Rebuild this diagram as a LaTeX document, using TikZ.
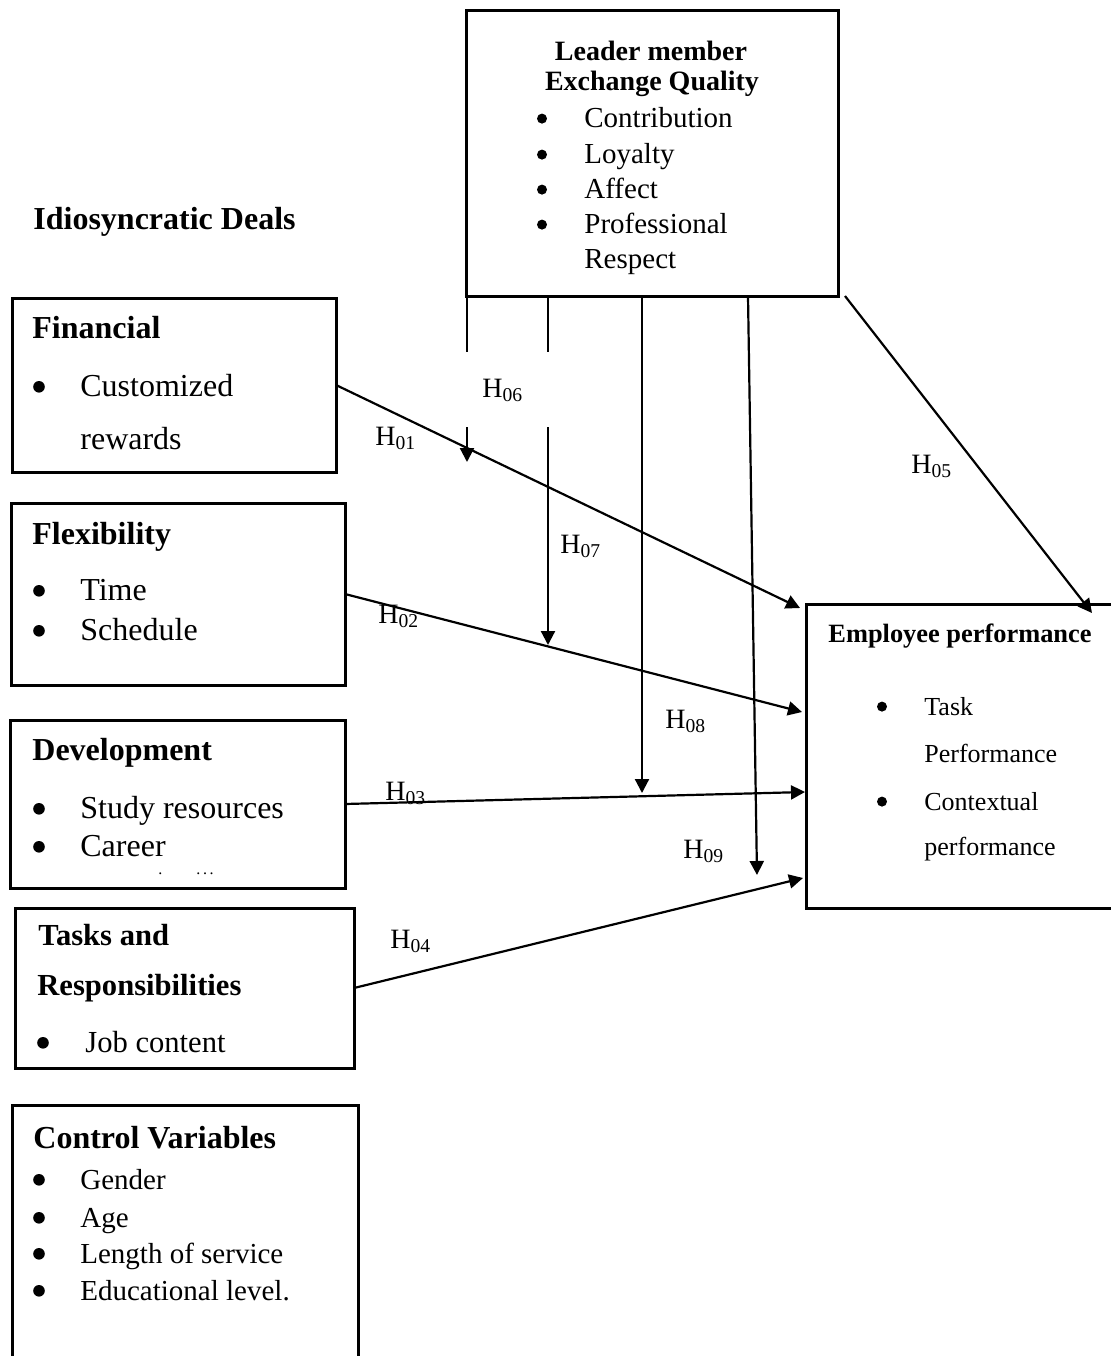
\documentclass[tikz,border=0pt]{standalone}
\usepackage{fontspec}
\setmainfont{Liberation Serif}
\usepackage{tikz}
\usetikzlibrary{arrows.meta, positioning}

\newcommand{\sz}[1]{\fontsize{#1}{#1}\selectfont}

\begin{document}
\begin{tikzpicture}[x=0.5pt, y=-0.5pt,
    box/.style={rectangle, draw=black, line width=1.5pt, anchor=north west, inner sep=0pt, outer sep=0pt},
    head/.style={anchor=base west, inner sep=0pt, font=\sz{16}\bfseries},
    item/.style={anchor=base west, inner sep=0pt, font=\sz{16}},
    bul/.style={circle, fill=black, inner sep=0pt, minimum size=5.8pt, yshift=4.6pt},
    smallbul/.style={circle, fill=black, inner sep=0pt, minimum size=5pt, yshift=4.2pt},
    hyp/.style={anchor=base west, inner sep=0pt, font=\sz{14}},
    link/.style={draw=black, line width=1.1pt},
    arrow/.style={link, -{Triangle[length=7pt, width=7pt]}}
]
\useasboundingbox (0,0) rectangle (1111,1356);

% Leader member exchange (moderator)
\node[box, minimum width=186pt, minimum height=143pt] (lmx) at (466,10) {};
\node[head, anchor=base, font=\sz{14}\bfseries] (lmxt1) at (651,60) {Leader member};
\node[head, anchor=base, font=\sz{14}\bfseries] (lmxt2) at (652,90) {Exchange Quality};
\foreach \y/\txt [count=\i] in {127/Contribution, 163/Loyalty, 198/Affect, 233/Professional} {
    \node[smallbul] (lmxb\i) at (542,\y) {};
    \node[item, font=\sz{14.5}] (lmxi\i) at (584,\y) {\txt};
}
\node[item, font=\sz{14.5}] (lmxi5) at (584,268) {Respect};

% Idiosyncratic deals
\node[head] (idd) at (33,229) {Idiosyncratic Deals};

\node[box, minimum width=162pt, minimum height=87pt] (fin) at (12,298) {};
\node[head] (fint) at (32,338) {Financial};
\node[bul] (finb) at (39,396) {};
\node[item] (fini1) at (80,396) {Customized};
\node[item] (fini2) at (80,449) {rewards};

\node[box, minimum width=167pt, minimum height=91pt] (flex) at (11,503) {};
\node[head] (flext) at (32,544) {Flexibility};
\foreach \y/\txt [count=\i] in {600/Time, 640/Schedule} {
    \node[bul] (flexb\i) at (39,\y) {};
    \node[item] (flexi\i) at (80,\y) {\txt};
}

\node[box, minimum width=167.5pt, minimum height=84pt] (dev) at (10,720) {};
\node[head] (devt) at (32,760) {Development};
\foreach \y/\txt [count=\i] in {818/Study resources, 856/Career} {
    \node[bul] (devb\i) at (39,\y) {};
    \node[item] (devi\i) at (80,\y) {\txt};
}
\node[item, font=\sz{8}] (devi3) at (158,874) {.\hspace{17pt}.\,.\,.};

\node[box, minimum width=169.5pt, minimum height=80pt] (task) at (15,908) {};
\node[head, font=\sz{15.3}\bfseries] (taskt1) at (38,945) {Tasks and};
\node[head, font=\sz{15.3}\bfseries] (taskt2) at (37,995) {Responsibilities};
\node[bul] (taskb) at (43,1052) {};
\node[item, font=\sz{15.3}] (taski) at (85,1052) {Job content};

% Control variables
\node[box, minimum width=173pt, minimum height=133pt] (ctrl) at (12,1105) {};
\node[head] (ctrlt) at (33,1148) {Control Variables};
\foreach \y/\txt [count=\i] in {1189/Gender, 1227/Age, 1263/Length of service, 1300/Educational level.} {
    \node[bul] (ctrlb\i) at (39,\y) {};
    \node[item, font=\sz{14.5}] (ctrli\i) at (80,\y) {\txt};
}

% Employee performance (outcome)
\node[box, minimum width=154pt, minimum height=152pt] (ep) at (806,604) {};
\node[head, anchor=base, font=\sz{13.2}\bfseries] (ept) at (960,642) {Employee performance};
\node[smallbul] (epb1) at (882,715) {};
\node[smallbul] (epb2) at (882,810) {};
\foreach \y/\txt [count=\i] in {715/Task, 762/Performance, 810/Contextual, 855/performance} {
    \node[item, font=\sz{13}] (epi\i) at (924,\y) {\txt};
}

% Arrow ends
\coordinate (t1) at (800,608);
\coordinate (t2) at (802,712);
\coordinate (t3) at (805,792);
\coordinate (t4) at (803,878);
\coordinate (t5) at (1092,613);
\coordinate (t6) at (467,462);
\coordinate (t7) at (548,645);
\coordinate (t8) at (642,793);
\coordinate (t9) at (757,875);
\coordinate (s9) at (748,0);
\coordinate (g6a) at (467,352);
\coordinate (g6b) at (467,427);
\coordinate (g7a) at (548,352);
\coordinate (g7b) at (548,427);

% Direct effects
\draw[arrow] (fin.east) -- (t1);
\draw[arrow] (flex.east) -- (t2);
\draw[arrow] (dev.east) -- (t3);
\draw[arrow] (task.east) -- (t4);
\draw[arrow] ([xshift=3.5pt]lmx.south east) -- (t5);

% Moderation
\draw[link] (lmx.south -| g6a) -- (g6a);
\draw[arrow] (g6b) -- (t6);
\draw[link] (lmx.south -| g7a) -- (g7a);
\draw[arrow] (g7b) -- (t7);
\draw[arrow] (lmx.south -| t8) -- (t8);
\draw[arrow] (lmx.south -| s9) -- (t9);

% Hypotheses
\node[hyp] (h01) at (375,445) {H\textsubscript{01}};
\node[hyp] (h02) at (378,623) {H\textsubscript{02}};
\node[hyp] (h03) at (385,800) {H\textsubscript{03}};
\node[hyp] (h04) at (390,948) {H\textsubscript{04}};
\node[hyp] (h05) at (911,473) {H\textsubscript{05}};
\node[hyp] (h06) at (482,397) {H\textsubscript{06}};
\node[hyp] (h07) at (560,553) {H\textsubscript{07}};
\node[hyp] (h08) at (665,728) {H\textsubscript{08}};
\node[hyp] (h09) at (683,858) {H\textsubscript{09}};
\end{tikzpicture}
\end{document}
